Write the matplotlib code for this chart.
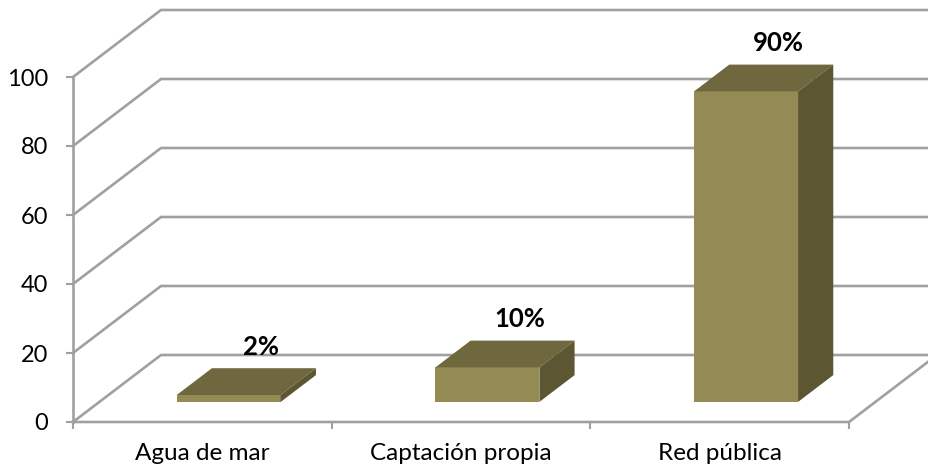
import matplotlib
matplotlib.use('Agg')
import matplotlib.pyplot as plt
from matplotlib.patches import Polygon

categorias = ['Agua de mar', 'Captación propia', 'Red pública']
valores = [2, 10, 90]
etiquetas = ['2%', '10%', '90%']
marcas_y = [0, 20, 40, 60, 80, 100]

plt.rcParams['font.family'] = ['Lato', 'DejaVu Sans']

W, H = 929, 470
fig = plt.figure(figsize=(W / 100, H / 100), dpi=100)
# plano frontal del grafico, en pixeles de la imagen
x0, x1, y0, y1 = 73, 849, 422, 77
ax = fig.add_axes([x0 / W, 1 - y0 / H, (x1 - x0) / W, (y0 - y1) / H])
ax.set_xlim(0, len(categorias))
ax.set_ylim(0, 100)

# desplazamiento de la profundidad 3D en unidades de datos
DX = 88 / ((x1 - x0) / len(categorias))
DY = 67 / ((y0 - y1) / 100)


def proy(x, y, d):
    return (x + d * DX, y + d * DY)


gris = '#a0a0a0'
n = len(categorias)

# paredes y rejilla
for v in marcas_y:
    pts = [proy(0, v, 0), proy(0, v, 1), proy(n, v, 1)]
    ax.plot([p[0] for p in pts], [p[1] for p in pts], color=gris, lw=1.9,
            clip_on=False, solid_joinstyle='miter', zorder=1)
pts = [proy(0, 0, 0), proy(n, 0, 0), proy(n, 0, 1)]
ax.plot([p[0] for p in pts], [p[1] for p in pts], color=gris, lw=1.9,
        clip_on=False, solid_joinstyle='miter', zorder=1)
ax.plot([0, 0], [0, 100], color=gris, lw=1.9, clip_on=False, zorder=1)

# barras
ancho = 104 / ((x1 - x0) / n)
d1, d2 = 0.3, 0.7
frente = '#948b54'
arriba = '#6f683f'
lado = '#5c5633'
for i, v in enumerate(valores):
    a = i + 0.5 - ancho / 2
    b = i + 0.5 + ancho / 2
    cara = [proy(a, 0, d1), proy(b, 0, d1), proy(b, v, d1), proy(a, v, d1)]
    tapa = [proy(a, v, d1), proy(b, v, d1), proy(b, v, d2), proy(a, v, d2)]
    costado = [proy(b, 0, d1), proy(b, 0, d2), proy(b, v, d2), proy(b, v, d1)]
    ax.add_patch(Polygon(cara, closed=True, fc=frente, ec='none', clip_on=False, zorder=3))
    ax.add_patch(Polygon(tapa, closed=True, fc=arriba, ec='none', clip_on=False, zorder=3))
    ax.add_patch(Polygon(costado, closed=True, fc=lado, ec='none', clip_on=False, zorder=3))
    ax.annotate(etiquetas[i], xy=proy(i + 0.5, v, d1), xytext=(23, 34.5),
                textcoords='offset points', ha='center', va='center',
                fontsize=18.5, fontweight='bold', color='black',
                annotation_clip=False, zorder=4)

for s in ax.spines.values():
    s.set_visible(False)
ax.patch.set_visible(False)
ax.set_yticks(marcas_y)
ax.set_xticks(range(n + 1))
ax.set_xticklabels([])
ax.set_xticks([i + 0.5 for i in range(n)], minor=True)
ax.set_xticklabels(categorias, minor=True)
ax.tick_params(axis='y', color=gris, width=1.5, length=5, labelsize=17, pad=13)
ax.tick_params(axis='x', which='major', color=gris, width=1.5, length=5)
ax.tick_params(axis='x', which='minor', length=0, labelsize=17.5, pad=15)

fig.savefig('out.png', dpi=100, facecolor='white')
